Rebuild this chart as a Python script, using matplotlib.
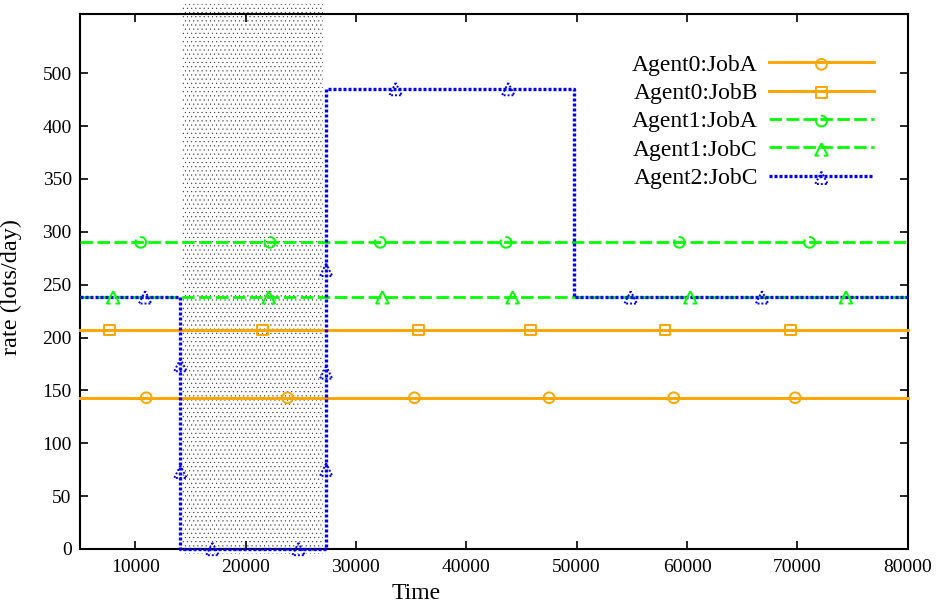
import matplotlib
matplotlib.use('Agg')
import matplotlib.pyplot as plt
from matplotlib.patches import Rectangle

plt.rcParams['font.family'] = ['Liberation Serif', 'DejaVu Serif']
plt.rcParams['hatch.linewidth'] = 0.3

# series: step paths plus where the point symbols sit
a0_joba_rate = 143
a0_joba_marks = [11000, 23800, 35300, 47500, 58800, 69800]

a0_jobb_rate = 207
a0_jobb_marks = [7700, 21500, 35700, 45800, 58000, 69400]

a1_joba_rate = 290
a1_joba_marks = [10500, 22200, 32200, 43600, 59300, 71100]

a1_jobc_rate = 238
a1_jobc_marks = [8000, 22100, 32400, 44200, 60300, 74400]

a2_jobc_time = [5000, 14100, 14100, 27300, 27300, 49800, 49800, 80000]
a2_jobc_rate = [238, 238, 0, 0, 435, 435, 238, 238]
a2_jobc_mark_time = [10900, 14100, 14100, 17000, 24800, 27300, 27300, 27300,
                     33600, 43800, 54900, 66800]
a2_jobc_mark_rate = [238, 174, 73, 0, 0, 75, 167, 264, 435, 435, 238, 238]

busy_start, busy_end = 14200, 27000

x_ticks = [10000, 20000, 30000, 40000, 50000, 60000, 70000, 80000]
y_ticks = [0, 50, 100, 150, 200, 250, 300, 350, 400, 450]
y_tick_labels = ['0', '50', '100', '150', '200', '250', '300', '350', '400', '500']

ORANGE = '#ffa500'
GREEN = '#00ff00'
BLUE = '#0000ff'
DASH = (0, (4.5, 1.6))
DOT = (0, (0.9, 0.6))

fig = plt.figure(figsize=(9.36, 6.03), dpi=100)
ax = fig.add_axes([0.0855, 0.0896, 0.8843, 0.8872])
x0, x1 = 5000, 80000
y0, y1 = 0, 506

# dotted box marking the interval
shade = Rectangle((busy_start, -5), busy_end - busy_start, 520,
                  facecolor='none', edgecolor='#333333', linewidth=0,
                  hatch='....', clip_on=False, zorder=1)
ax.add_patch(shade)

series = [
    ('Agent0:JobA', [x0, x1], [a0_joba_rate] * 2, a0_joba_marks,
     [a0_joba_rate] * len(a0_joba_marks), ORANGE, '-', 'o', 'solid', 2.1, 60),
    ('Agent0:JobB', [x0, x1], [a0_jobb_rate] * 2, a0_jobb_marks,
     [a0_jobb_rate] * len(a0_jobb_marks), ORANGE, '-', 's', 'solid', 2.1, 60),
    ('Agent1:JobA', [x0, x1], [a1_joba_rate] * 2, a1_joba_marks,
     [a1_joba_rate] * len(a1_joba_marks), GREEN, DASH, 'o', (0, (9, 2.5)), 2.0, 60),
    ('Agent1:JobC', [x0, x1], [a1_jobc_rate] * 2, a1_jobc_marks,
     [a1_jobc_rate] * len(a1_jobc_marks), GREEN, DASH, '^', (0, (9, 2.5)), 2.0, 80),
    ('Agent2:JobC', a2_jobc_time, a2_jobc_rate, a2_jobc_mark_time,
     a2_jobc_mark_rate, BLUE, DOT, '^', (0, (1, 1)), 2.4, 80),
]

handles = []
for name, xs, ys, mx, my, color, ls, mk, mk_ls, lw, size in series:
    line, = ax.plot(xs, ys, color=color, linestyle=ls, linewidth=lw,
                    zorder=3, clip_on=False)
    pts = ax.scatter(mx, my, s=size, marker=mk, facecolors='none',
                     edgecolors=color, linewidths=1.4, linestyles=mk_ls,
                     zorder=4, clip_on=False)
    handles.append((line, pts))

ax.set_xlim(x0, x1)
ax.set_ylim(y0, y1)
ax.set_xticks(x_ticks)
ax.set_yticks(y_ticks)
ax.set_yticklabels(y_tick_labels)
ax.tick_params(direction='in', length=5.5, width=1.2, top=True, right=True,
               labelsize=14, pad=6, colors='black')
ax.tick_params(axis='x', pad=7)
for sp in ax.spines.values():
    sp.set_linewidth(1.5)

ax.set_xlabel('Time', fontsize=17)
ax.xaxis.set_label_coords((416 - 80) / 827.7, -0.064)
ax.set_ylabel('rate (lots/day)', fontsize=17.5)
ax.yaxis.set_label_coords(-0.07, 0.49)

ax.legend(handles, [s[0] for s in series], loc='upper right',
          bbox_to_anchor=(874 / 936, (603 - 54) / 603),
          bbox_transform=fig.transFigure, frameon=False, markerfirst=False,
          fontsize=17, handlelength=4.45, handletextpad=0.47,
          labelspacing=0.29, borderpad=0, borderaxespad=0, scatterpoints=1)

fig.savefig('out.png', dpi=100)
